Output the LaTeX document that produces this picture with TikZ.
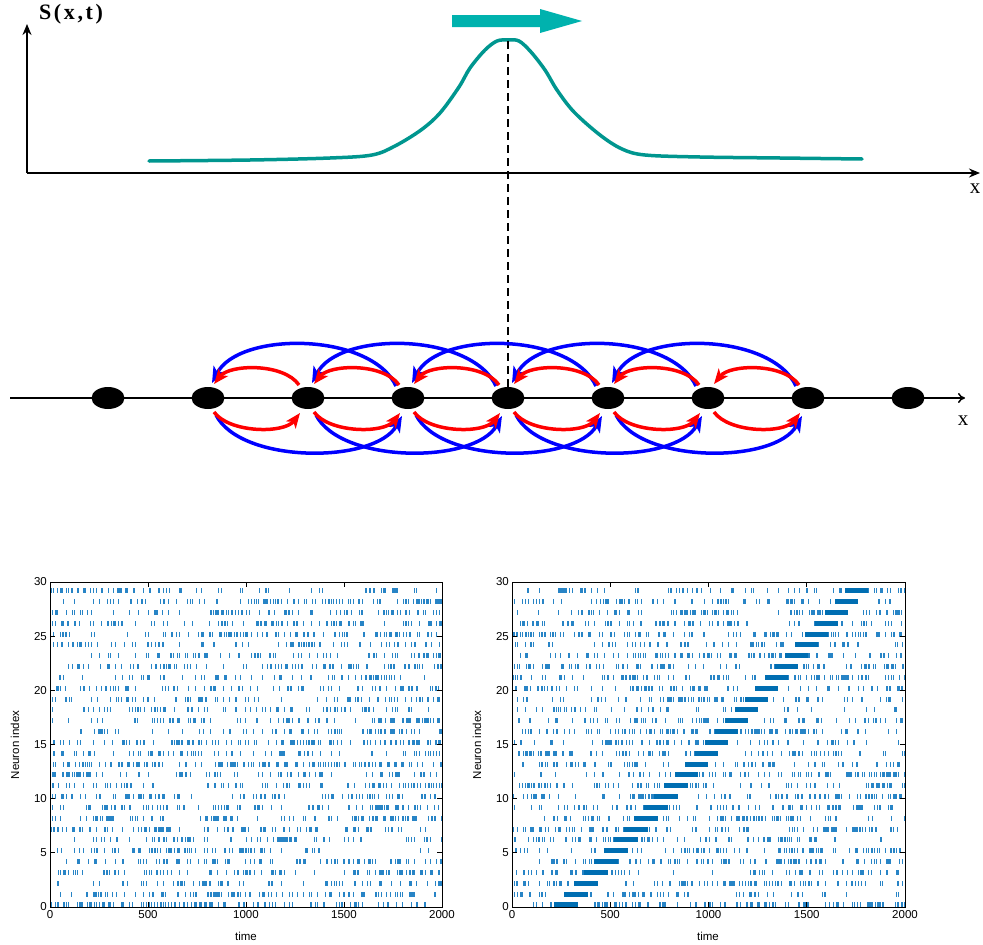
\documentclass[tikz,border=0pt]{standalone}
\usepackage{fontspec}
\setmainfont{Liberation Serif}
\newfontfamily\plotfont{Liberation Sans}
\usetikzlibrary{arrows.meta,shapes.geometric}
\definecolor{wave}{RGB}{0,150,143}
\definecolor{bigarrow}{RGB}{0,178,174}
\definecolor{arcred}{RGB}{255,0,0}
\definecolor{arcblue}{RGB}{0,0,255}
\definecolor{spk}{RGB}{40,132,198}
\definecolor{burst}{RGB}{0,110,178}
\tikzset{
  axisline/.style={line width=1.8pt, -{Stealth[length=11pt,width=9pt]}},
  wavecurve/.style={draw=wave, line width=3.5pt, line join=round, line cap=round},
  dashline/.style={line width=2.5pt, dash pattern=on 8pt off 5pt},
  neuron/.style={ellipse, fill=black, minimum width=33pt, minimum height=22pt, inner sep=0pt},
  redarc/.style={draw=arcred, line width=3.5pt, -{Stealth[length=15pt,width=12pt,inset=4pt]}},
  bluearc/.style={draw=arcblue, line width=3.5pt, -{Stealth[length=16pt,width=13pt,inset=4pt]}},
  bigx/.style={font=\fontsize{21}{23}\selectfont, inner sep=0pt},
  frame/.style={line width=0.9pt},
  ticklab/.style={font=\plotfont\fontsize{11.5}{13}\selectfont},
}
\newcommand{\spikerows}{%
 \foreach \k in {0,...,29}{%
  \foreach \blk in {0,...,9}{%
   \pgfmathsetmacro\myp{0.08+0.42*rnd}%
   \foreach \b in {0,...,24}{%
    \pgfmathsetmacro\myr{rnd}%
    \ifdim\myr pt<\myp pt
      \pgfmathsetmacro\myt{\blk*200+\b*8+rnd*3}%
      \fill[spk] (\myt,\k-0.03) rectangle ++(6.2,0.46);%
    \fi
   }%
  }%
 }%
}
\newcommand{\plotaxes}{%
  \draw[frame] (0,0) rectangle (2000,30);
  \foreach \t in {0,500,1000,1500,2000}{%
    \draw[frame] (\t,0) -- ++(0,0.45);
    \draw[frame] (\t,30) -- ++(0,-0.45);
    \node[ticklab, below, inner sep=3pt] (tx\t) at (\t,0) {\t};
  }
  \foreach \v in {0,5,...,30}{%
    \draw[frame] (0,\v) -- ++(25,0);
    \draw[frame] (2000,\v) -- ++(-25,0);
    \node[ticklab, left, inner sep=3pt] (ty\v) at (0,\v) {\v};
  }
}
\begin{document}
\begin{tikzpicture}[x=1pt,y=-1pt]
\useasboundingbox (0,0) rectangle (983,945);

% ---------- top: activity profile ----------
\coordinate (o) at (27,173);
\coordinate (ytip) at (27,24);
\coordinate (xtip) at (980,173);
\draw[axisline] (o) -- (ytip);
\draw[axisline] (o) -- (xtip);
\node[font=\fontsize{22}{24}\selectfont\bfseries\addfontfeatures{LetterSpace=12}, inner sep=0pt] (slab) at (71,14) {S(x,t)};
\node[bigx] (xtop) at (975,189) {x};

\fill[bigarrow] (452,15) -- (540,15) -- (540,9) -- (582,21) -- (540,33) -- (540,27) -- (452,27) -- cycle;

\draw[wavecurve] plot[smooth, tension=0.55] coordinates {
 (149,161) (250,160) (330,158) (372,155) (395,146) (421,130) (440,113)
 (459,87) (470,68) (485,50) (497,41) (508,40) (519,41) (531,52) (545,70)
 (557,90) (574,112) (600,135) (622,149) (645,155) (700,157) (780,158) (862,159)};
\coordinate (peak) at (508,41);

% ---------- middle: chain of neurons ----------
\coordinate (ax0) at (10,398);
\coordinate (ax1) at (965,398);
\draw[line width=1.5pt, -{To[length=7pt,width=10pt]}] (ax0) -- (ax1);
\node[bigx] (xmid) at (963,421) {x};
\foreach \i in {0,...,8}{
  \node[neuron] (n\i) at (108+100*\i,398) {};
}
\draw[dashline] (peak) -- (n4.north);

% blue long-range connections
\foreach \i [evaluate=\i as \j using int(\i+2)] in {1,...,5}{
  \draw[bluearc] ([shift={(-12,-12)}]n\j.center) .. controls +(-25,-54) and +(27,-52) .. ([shift={(4,-15)}]n\i.center);
  \draw[bluearc] ([shift={(8,17)}]n\i.center) .. controls +(25,49) and +(-27,48) .. ([shift={(-6,18)}]n\j.center);
}
% red nearest-neighbour connections
\foreach \i [evaluate=\i as \j using int(\i+1)] in {1,...,6}{
  \draw[redarc] ([shift={(-9,-13)}]n\j.center) .. controls +(-15,-22) and +(16,-20) .. ([shift={(6,-14)}]n\i.center);
  \draw[redarc] ([shift={(6,14)}]n\i.center) .. controls +(15,21) and +(-16,21) .. ([shift={(-8,15)}]n\j.center);
}

% ---------- bottom left raster ----------
\begin{scope}[shift={(50,907)}, x=0.196pt, y=10.8333pt]
  \begin{scope}
    \clip (0,0) rectangle (2000,30);
    \pgfmathsetseed{17}
    \spikerows
  \end{scope}
  \plotaxes
\end{scope}
\node[ticklab, rotate=90] (ylabL) at (15,745) {Neuron index};
\node[ticklab] (xlabL) at (246,936) {time};

% ---------- bottom right raster ----------
\begin{scope}[shift={(512,907)}, x=0.1965pt, y=10.8333pt]
  \begin{scope}
    \clip (0,0) rectangle (2000,30);
    \pgfmathsetseed{523}
    \spikerows
    \foreach \k in {0,...,29}{
      \fill[burst] ({275+51*\k-60},\k-0.03) rectangle ++(120,0.46);
    }
  \end{scope}
  \plotaxes
\end{scope}
\node[ticklab, rotate=90] (ylabR) at (477,745) {Neuron index};
\node[ticklab] (xlabR) at (708,936) {time};
\end{tikzpicture}
\end{document}
